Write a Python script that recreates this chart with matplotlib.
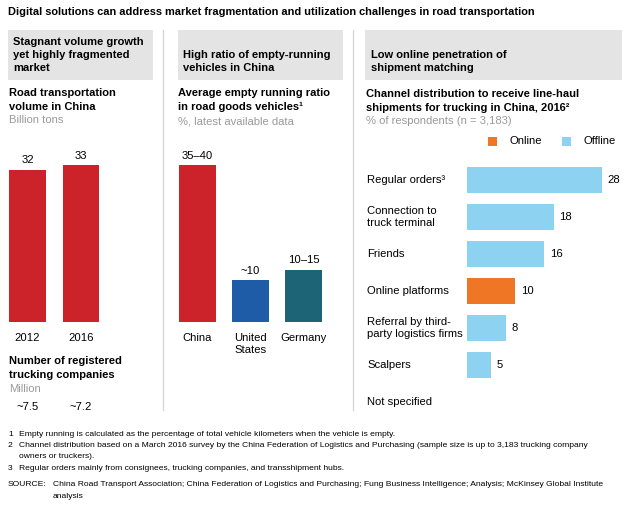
import matplotlib.pyplot as plt
from matplotlib.patches import Rectangle
from matplotlib.lines import Line2D
from matplotlib.transforms import blended_transform_factory

# --- Data ---
years = ['2012', '2016']
volume = [32, 33]
companies = [7.5, 7.2]

countries = ['China', 'United\nStates', 'Germany']
empty_ratio = [37.5, 10, 12.5]
empty_labels = ['35–40', '~10', '10–15']

channels = ['Regular orders³', 'Connection to\ntruck terminal', 'Friends', 'Online platforms',
            'Referral by third-\nparty logistics firms', 'Scalpers', 'Not specified']
channel_share = [28, 18, 16, 10, 8, 5, None]
channel_type = ['Offline', 'Offline', 'Offline', 'Online', 'Offline', 'Offline', None]

# --- Style ---
RED = '#CC2229'
US_BLUE = '#1F5CA8'
DE_TEAL = '#1D6477'
ONLINE = '#EE7624'
OFFLINE = '#8DD2F0'
GRAY_TXT = '#9A9A9A'
BOX = '#E4E4E4'
FS = 8.1      # regular text
FB = 8.0      # bold subtitles
FN = 6.1      # footnotes
plt.rcParams['font.family'] = ['Liberation Sans', 'DejaVu Sans']

W, H = 631, 511
fig = plt.figure(figsize=(W / 100, H / 100), dpi=100)


def fx(px):
    return px / W


def fy(py):
    return 1 - py / H


def txt(x, y, s, **kw):
    kw.setdefault('va', 'center')
    kw.setdefault('fontsize', FS)
    return fig.text(fx(x), fy(y), s, **kw)


def add_ax(x0, y0, x1, y1):
    ax = fig.add_axes([fx(x0), fy(y1), (x1 - x0) / W, (y1 - y0) / H])
    ax.axis('off')
    return ax


# --- Title ---
txt(8, 12, 'Digital solutions can address market fragmentation and utilization challenges in road transportation',
    fontsize=7.9, fontweight='bold')

# --- Header boxes ---
for x0, x1 in [(8, 153), (178, 343), (365, 622)]:
    fig.patches.append(Rectangle((fx(x0), fy(80)), (x1 - x0) / W, 50 / H,
                                 transform=fig.transFigure, facecolor=BOX, edgecolor='none'))
txt(13, 42, 'Stagnant volume growth', fontweight='bold', fontsize=FB)
txt(13, 55, 'yet highly fragmented', fontweight='bold', fontsize=FB)
txt(13, 68, 'market', fontweight='bold', fontsize=FB)
txt(183, 55, 'High ratio of empty-running', fontweight='bold', fontsize=FB)
txt(183, 68, 'vehicles in China', fontweight='bold', fontsize=FB)
txt(371, 55, 'Low online penetration of', fontweight='bold', fontsize=FB)
txt(371, 68, 'shipment matching', fontweight='bold', fontsize=FB)

# separators
for x in (163, 353):
    fig.lines.append(Line2D([fx(x), fx(x)], [fy(30), fy(410)], transform=fig.transFigure,
                            color='#D5D5D5', lw=0.9))

# --- Panel 1: road transportation volume ---
txt(9, 93, 'Road transportation', fontweight='bold', fontsize=FB)
txt(9, 107, 'volume in China', fontweight='bold', fontsize=FB)
txt(9, 120, 'Billion tons', color=GRAY_TXT)

ax1 = add_ax(0.75, 140, 107.75, 322)
ax1.bar(range(len(years)), volume, width=0.69, color=RED)
ax1.set_xlim(-0.5, 1.5)
ax1.set_ylim(0, 38.2)
for i, v in enumerate(volume):
    ax1.annotate(str(v), (i, v), xytext=(0, 3), textcoords='offset points',
                 ha='center', va='bottom', fontsize=FS)
    ax1.annotate(years[i], (i, 0), xytext=(0, -8), textcoords='offset points',
                 ha='center', va='top', fontsize=FS)

txt(9, 361, 'Number of registered', fontweight='bold', fontsize=FB)
txt(9, 375, 'trucking companies', fontweight='bold', fontsize=FB)
txt(9, 389, 'Million', color=GRAY_TXT)
comp_tr = blended_transform_factory(ax1.transData, fig.transFigure)
for i, c in enumerate(companies):
    ax1.text(i, fy(407), f'~{c}', ha='center', va='center', fontsize=FS, transform=comp_tr)

# --- Panel 2: empty running ratio ---
txt(178, 93, 'Average empty running ratio', fontweight='bold', fontsize=FB)
txt(178, 107, 'in road goods vehicles¹', fontweight='bold', fontsize=FB)
txt(178, 121, '%, latest available data', color=GRAY_TXT)

ax2 = add_ax(170.5, 140, 330.5, 322)
ax2.bar(range(len(countries)), empty_ratio, width=0.69, color=[RED, US_BLUE, DE_TEAL])
ax2.set_xlim(-0.5, 2.5)
ax2.set_ylim(0, 43.4)
for i, v in enumerate(empty_ratio):
    ax2.annotate(empty_labels[i], (i, v), xytext=(0, 3), textcoords='offset points',
                 ha='center', va='bottom', fontsize=FS)
    ax2.annotate(countries[i], (i, 0), xytext=(0, -8), textcoords='offset points',
                 ha='center', va='top', fontsize=FS, linespacing=1.25)

# --- Panel 3: channel distribution ---
txt(366, 94, 'Channel distribution to receive line-haul', fontweight='bold', fontsize=FB)
txt(366, 108, 'shipments for trucking in China, 2016²', fontweight='bold', fontsize=FB)
txt(366, 121, '% of respondents (n = 3,183)', color=GRAY_TXT)

# legend
for x0, col, lab in [(488, ONLINE, 'Online'), (562, OFFLINE, 'Offline')]:
    fig.patches.append(Rectangle((fx(x0), fy(146)), 9 / W, 9 / H,
                                 transform=fig.transFigure, facecolor=col, edgecolor='none'))
    txt(x0 + 21, 141, lab)

ax3 = add_ax(467, 161.5, 620, 420.5)
colors = [ONLINE if t == 'Online' else OFFLINE for t in channel_type]
vals = [v if v is not None else 0 for v in channel_share]
ax3.barh(range(len(channels)), vals, height=0.68, color=colors)
ax3.set_xlim(0, 31.7)
ax3.set_ylim(6.5, -0.5)
lab_tr = blended_transform_factory(fig.transFigure, ax3.transData)
for i, name in enumerate(channels):
    ax3.text(fx(367), i, name, transform=lab_tr, ha='left', va='center',
             fontsize=FS, linespacing=1.25)
    if channel_share[i] is not None:
        ax3.annotate(str(channel_share[i]), (channel_share[i], i), xytext=(4, 0),
                     textcoords='offset points', ha='left', va='center', fontsize=FS)

# --- Footnotes ---
txt(8, 434, '1', fontsize=FN)
txt(19, 434, 'Empty running is calculated as the percentage of total vehicle kilometers when the vehicle is empty.', fontsize=FN)
txt(8, 445, '2', fontsize=FN)
txt(19, 445, 'Channel distribution based on a March 2016 survey by the China Federation of Logistics and Purchasing '
    '(sample size is up to 3,183 trucking company', fontsize=FN)
txt(19, 456, 'owners or truckers).', fontsize=FN)
txt(8, 468, '3', fontsize=FN)
txt(19, 468, 'Regular orders mainly from consignees, trucking companies, and transshipment hubs.', fontsize=FN)
txt(8, 484, 'SOURCE:', fontsize=FN)
txt(53, 484, 'China Road Transport Association; China Federation of Logistics and Purchasing; '
    'Fung Business Intelligence; Analysis; McKinsey Global Institute', fontsize=FN)
txt(53, 496, 'analysis', fontsize=FN)

fig.savefig('out.png', dpi=100, facecolor='white')
